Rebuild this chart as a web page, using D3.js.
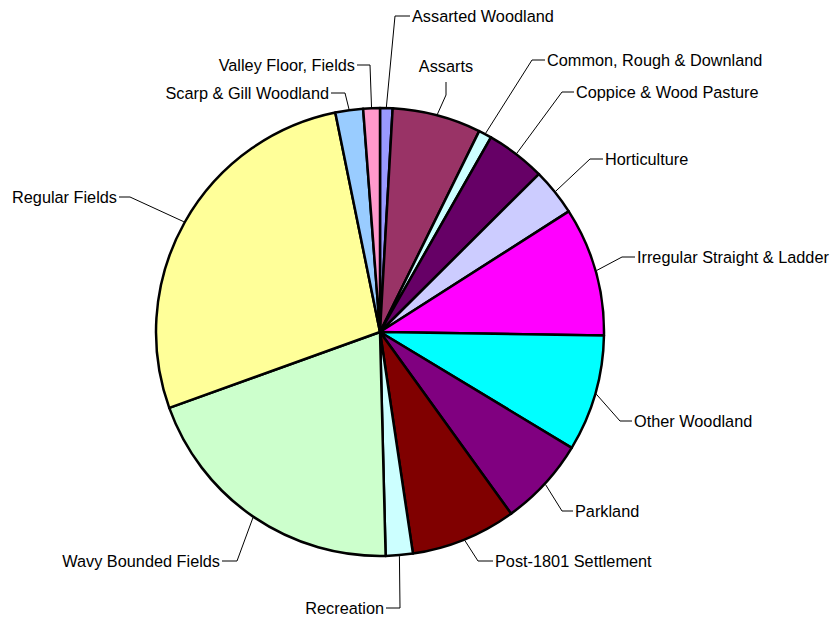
<!DOCTYPE html>
<html>
<head>
<meta charset="utf-8">
<script src="https://cdn.jsdelivr.net/npm/d3@7"></script>
<style>
  body { margin: 0; background: #fff; }
  svg { display: block; }
</style>
</head>
<body>
<div id="chart"></div>
<script>
// categories, in the order drawn (clockwise from 12 o'clock)
var categories = ["Assarted Woodland", "Assarts", "Common, Rough & Downland", "Coppice & Wood Pasture",
  "Horticulture", "Irregular Straight & Ladder", "Other Woodland", "Parkland", "Post-1801 Settlement",
  "Recreation", "Wavy Bounded Fields", "Regular Fields", "Scarp & Gill Woodland", "Valley Floor, Fields"];

// share of area (%)
var values = [0.9, 6.4, 0.95, 4.3, 3.4, 9.3, 8.4, 6.4, 7.6, 1.95, 19.9, 27.3, 2.0, 1.2];

var colors = ["#9999ff", "#993366", "#ccffff", "#660066", "#ccccff", "#ff00ff", "#00ffff",
  "#800080", "#800000", "#ccffff", "#ccffcc", "#ffff99", "#99ccff", "#ff99cc"];

// label layout: elbow point, end of horizontal tick, anchor
var labelLayout = [
  { ex: 395, ey: 16, hx: 410, anchor: "start" },
  { ex: 446, ey: 95, hx: 446, anchor: "middle" },
  { ex: 532, ey: 60, hx: 545, anchor: "start" },
  { ex: 562, ey: 92, hx: 574, anchor: "start" },
  { ex: 590, ey: 159, hx: 603, anchor: "start" },
  { ex: 622, ey: 257, hx: 635, anchor: "start" },
  { ex: 620, ey: 421, hx: 632, anchor: "start" },
  { ex: 562, ey: 511, hx: 573, anchor: "start" },
  { ex: 478, ey: 561, hx: 493, anchor: "start" },
  { ex: 400, ey: 608, hx: 386, anchor: "end" },
  { ex: 237, ey: 561, hx: 222, anchor: "end" },
  { ex: 130, ey: 197, hx: 119, anchor: "end" },
  { ex: 345, ey: 93, hx: 331, anchor: "end" },
  { ex: 370, ey: 65, hx: 357, anchor: "end" }
];

var width = 831, height = 619;
var cx = 380, cy = 332, radius = 224;

var data = categories.map(function (c, i) { return { name: c, value: values[i], color: colors[i], lab: labelLayout[i] }; });

var svg = d3.select("#chart").append("svg")
  .attr("width", width)
  .attr("height", height);

var g = svg.append("g").attr("transform", "translate(" + cx + "," + cy + ")");

var pie = d3.pie().sort(null).value(function (d) { return d.value; });
var arc = d3.arc().innerRadius(0).outerRadius(radius);

var arcs = pie(data);

g.selectAll("path.slice")
  .data(arcs)
  .enter()
  .append("path")
  .attr("class", "slice")
  .attr("d", arc)
  .style("fill", function (d) { return d.data.color; })
  .style("stroke", "#000")
  .style("stroke-width", 2.5)
  .style("stroke-linejoin", "round");

// leader lines: from the rim at mid angle to the elbow, then a short tick
svg.append("g").selectAll("polyline")
  .data(arcs)
  .enter()
  .append("polyline")
  .attr("points", function (d) {
    var a = (d.startAngle + d.endAngle) / 2;
    var sx = cx + Math.sin(a) * (radius + 1);
    var sy = cy - Math.cos(a) * (radius + 1);
    var L = d.data.lab;
    if (L.anchor === "middle") {
      return [[sx, sy], [L.ex, L.ey], [L.ex, L.ey - 13]].join(" ");
    }
    return [[sx, sy], [L.ex, L.ey], [L.hx, L.ey]].join(" ");
  })
  .style("fill", "none")
  .style("stroke", "#000")
  .style("stroke-width", 1);

svg.append("g").selectAll("text")
  .data(arcs)
  .enter()
  .append("text")
  .attr("x", function (d) {
    var L = d.data.lab;
    if (L.anchor === "start") return L.hx + 2;
    if (L.anchor === "end") return L.hx - 2;
    return L.hx;
  })
  .attr("y", function (d) {
    var L = d.data.lab;
    return L.anchor === "middle" ? L.ey - 29 : L.ey;
  })
  .attr("text-anchor", function (d) { return d.data.lab.anchor; })
  .attr("dominant-baseline", "central")
  .style("font-family", "Arial, 'Liberation Sans', sans-serif")
  .style("font-size", "16.3px")
  .style("fill", "#000")
  .text(function (d) { return d.data.name; });
</script>
</body>
</html>
